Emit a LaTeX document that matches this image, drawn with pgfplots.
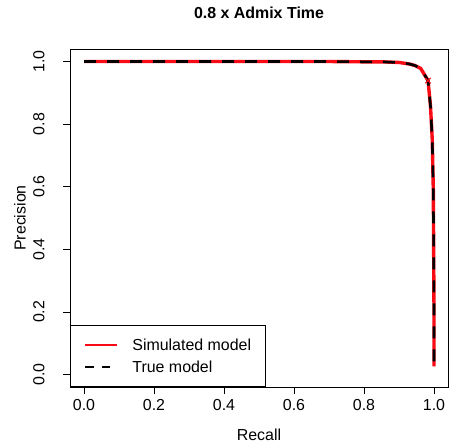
\documentclass[border=0pt]{standalone}
\usepackage{pgfplots}
\pgfplotsset{compat=1.18}
\usepackage{fontspec}
\setmainfont{Liberation Sans}
\definecolor{rred}{RGB}{250,10,20}
\begin{document}
\begin{tikzpicture}
\path[use as bounding box] (0,0) rectangle (452bp,447bp);
\begin{axis}[
  at={(70bp,60bp)}, anchor=south west,
  scale only axis, width=378bp, height=338bp,
  xmin=-0.04, xmax=1.04, ymin=-0.04, ymax=1.04,
  xtick={0,0.2,0.4,0.6,0.8,1}, ytick={0,0.2,0.4,0.6,0.8,1},
  xticklabels={0.0,0.2,0.4,0.6,0.8,1.0},
  yticklabels={0.0,0.2,0.4,0.6,0.8,1.0},
  xtick pos=lower, ytick pos=left,
  tick align=outside, major tick length=7bp,
  tick style={black, line width=0.75bp},
  axis line style={line width=0.75bp},
  ticklabel style={font=\fontsize{16}{19}\selectfont},
  xticklabel style={anchor=north, yshift=-2bp},
  yticklabel style={xshift=-15bp, rotate=90, anchor=south},
  xlabel={Recall}, ylabel={Precision},
  label style={font=\fontsize{16}{19}\selectfont},
  xlabel style={at={(axis description cs:0.5,-0.142)}, anchor=center},
  ylabel style={at={(axis description cs:-0.1323,0.5)}, anchor=center},
  title={\textbf{0.8 x Admix Time}},
  title style={font=\fontsize{16}{19}\selectfont, at={(axis description cs:0.5,1.0888)}, anchor=center},
  legend style={at={(rel axis cs:0,0)}, anchor=south west, draw=black, line width=0.75bp,
    font=\fontsize{16}{19}\selectfont, inner xsep=0pt, inner ysep=8.5bp,
    row sep=0pt, column sep=0pt,
    nodes={inner sep=0pt, text height=16.75bp, text depth=5.25bp}},
  legend cell align=left,
  legend image code/.code={
    \draw[#1] (15bp,0bp) -- (47bp,0bp);
    \pgfresetboundingbox
    \pgfpathrectangle{\pgfpoint{0bp}{-2bp}}{\pgfpoint{62bp}{4bp}}
    \pgfusepath{use as bounding box}
  },
]
\addplot[rred, line width=3.4bp, line join=round,
  legend image post style={line width=2bp}] coordinates {
(0.000,1.000)(0.100,1.000)(0.200,1.000)(0.400,1.000)(0.600,1.000)(0.700,1.000)
(0.800,0.999)(0.850,0.999)(0.900,0.997)(0.930,0.992)(0.946,0.987)(0.962,0.978)
(0.983,0.939)(0.990,0.857)(0.995,0.751)(0.998,0.590)(0.999,0.400)(1.000,0.200)(1.000,0.026)};
\addlegendentry{\makebox[133bp][l]{Simulated model}}
\addplot[black, line width=2.6bp, dash pattern=on 12bp off 11bp,
  legend image post style={line width=2.6bp, dash pattern=on 8.5bp off 8bp}] coordinates {
(0.000,1.000)(0.100,1.000)(0.200,1.000)(0.400,1.000)(0.600,1.000)(0.700,1.000)
(0.800,0.999)(0.850,0.999)(0.900,0.997)(0.930,0.992)(0.946,0.987)(0.962,0.978)
(0.983,0.939)(0.990,0.857)(0.995,0.751)(0.998,0.590)(0.999,0.400)(1.000,0.200)(1.000,0.026)};
\addlegendentry{\makebox[133bp][l]{True model}}
\addplot[forget plot, only marks, rred, mark=x, mark size=3.8bp, mark options={line width=1.1bp}] coordinates {(0.983,0.939)};
\end{axis}
\end{tikzpicture}
\end{document}
